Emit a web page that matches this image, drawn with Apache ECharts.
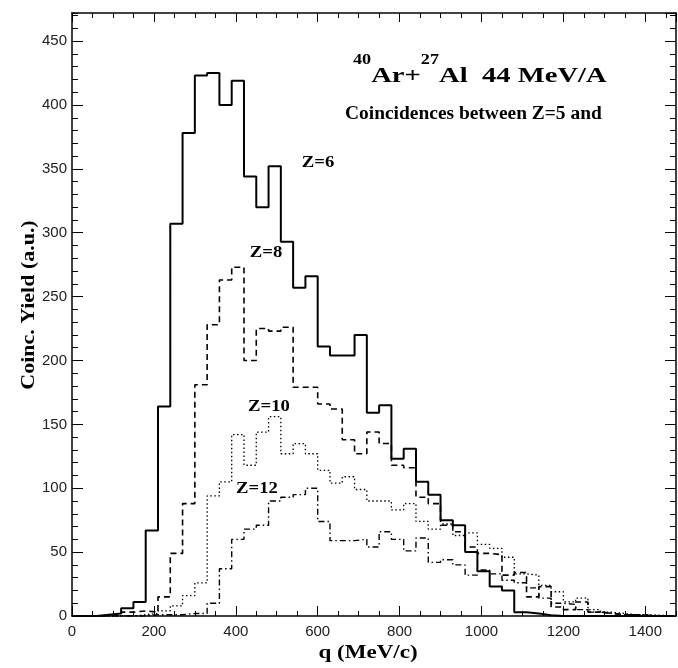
<!DOCTYPE html>
<html><head><meta charset="utf-8">
<script src="https://cdn.jsdelivr.net/npm/echarts@6/dist/echarts.min.js"></script>
<style>html,body{margin:0;padding:0;background:#fff}#c{width:678px;height:668px}</style>
</head><body><div id="c"></div>
<script>
// lower edges of the 30 MeV/c bins
const binEdges = [0,30,60,90,120,150,180,210,240,270,
  300,330,360,390,420,450,480,510,540,570,
  600,630,660,690,720,750,780,810,840,870,
  900,930,960,990,1020,1050,1080,1110,1140,1170,
  1200,1230,1260,1290,1320,1350,1380,1410,1440];
const binWidth = 30;
// Coincidence yields per bin
const z6 = [0,0,1,2,6,11,67,164,307,378,
  423,425,400,419,344,320,352,293,257,266,
  211,204,204,220,159,165,123,131,105,95,
  75,71,50,35,23,20,3,2,0.5,0,
  0,0,0,0,0,0,0,0,0];
const z8 = [0,0,0,1,3,4,3,15,49,88,
  181,228,263,273,200,225,223,226,179,179,
  166,162,138,127,144,135,118,116,93,88,
  71,66,54,49,48,32,34,15,23,7,
  5,11,3,2,1,1,0.5,0,0];
const z10 = [0,0,0,0,0,1,2,4,8,16,
  26,94,105,142,118,144,156,127,135,127,
  114,104,109,99,90,90,83,88,74,68,
  72,63,65,56,53,46,33,32,24,19,
  11,14,5,3,2,1,1,0.5,0];
const z12 = [0,0,0,0,0,0,1,1,1,2,
  2,10,37,60,68,71,90,93,95,100,
  74,59,59,60,54,66,60,51,61,42,
  44,40,32,36,33,28,26,22,14,10,
  9,5,3,2,1,1,0.5,0,0];
const xMin = 0, xMax = 1475, xMajor = 200, xMinor = 50;
const yMin = 0, yMax = 472, yMajor = 50, yMinor = 10;
const seriesLabels = ['Z=6','Z=8','Z=10','Z=12'];

function histData(vals){
  const d = binEdges.map((e,i)=>[e, vals[i]]);
  d.push([binEdges[binEdges.length-1] + binWidth, 0]);
  return d;
}
const serif = '"Liberation Serif", "Times New Roman", serif';
const sans = '"Liberation Sans", Arial, sans-serif';

function xAx(pos, interval, tickLen, showLabel, showLine){
  return {type:'value', position:pos, min:xMin, max:xMax, interval:interval,
    axisLine:{show:showLine, onZero:false, lineStyle:{color:'#000', width:1.5}},
    axisTick:{show:true, inside:true, length:tickLen, lineStyle:{color:'#000', width:1}},
    axisLabel:{show:showLabel, showMaxLabel:false, margin:8, fontFamily:sans, fontSize:15, color:'#222',
      formatter:function(v){return String(v);}},
    splitLine:{show:false}};
}
function yAx(pos, interval, tickLen, showLabel, showLine){
  return {type:'value', position:pos, min:yMin, max:yMax, interval:interval,
    axisLine:{show:showLine, onZero:false, lineStyle:{color:'#000', width:1.5}},
    axisTick:{show:true, inside:true, length:tickLen, lineStyle:{color:'#000', width:1}},
    axisLabel:{show:showLabel, showMaxLabel:false, margin:5, fontFamily:sans, fontSize:15, color:'#222',
      formatter:function(v){return String(v);}},
    splitLine:{show:false}};
}
function ser(name, vals, width, dash, z){
  return {name:name, type:'line', step:'end', data:histData(vals), symbol:'none', z:z,
    xAxisIndex:0, yAxisIndex:0,
    lineStyle:{color:'#000', width:width, type:dash}};
}
const chart = echarts.init(document.getElementById('c'), null, {renderer:'canvas'});
chart.setOption({
  animation:false,
  backgroundColor:'#fff',
  grid:{left:72, right:2, top:13, bottom:52},
  xAxis:[xAx('bottom', xMajor, 10, true, true), xAx('bottom', xMinor, 5, false, false),
         xAx('top', xMajor, 9, false, true), xAx('top', xMinor, 5, false, false)],
  yAxis:[yAx('left', yMajor, 11, true, true), yAx('left', yMinor, 6, false, false),
         yAx('right', yMajor, 11, false, true), yAx('right', yMinor, 6, false, false)],
  series:[
    ser(seriesLabels[3], z12, 1.4, [6,3,1.5,3], 2),
    ser(seriesLabels[2], z10, 1.3, [1.5,2.5], 3),
    ser(seriesLabels[1], z8, 1.6, [6,4], 4),
    ser(seriesLabels[0], z6, 2, 'solid', 5)
  ],
  graphic:[
    {type:'text', x:353, y:53, scaleX:1.3, z:10, style:{
      text:'{s|40}{b|Ar+}{s|27}{b|Al  44 MeV/A}', textVerticalAlign:'top',
      rich:{b:{fontFamily:serif, fontWeight:'bold', fontSize:22, fill:'#000', lineHeight:34, verticalAlign:'bottom'},
            s:{fontFamily:serif, fontWeight:'bold', fontSize:14, fill:'#000', lineHeight:34, verticalAlign:'top'}}}},
    {type:'text', x:345, y:105, scaleX:1.08, z:10, style:{text:'Coincidences between Z=5 and',
      font:'bold 18px ' + serif, fill:'#000', textVerticalAlign:'top'}},
    {type:'text', x:318, y:163, scaleX:1.1, z:10, style:{text:seriesLabels[0], font:'bold 17px ' + serif, fill:'#000', textAlign:'center', textVerticalAlign:'middle'}},
    {type:'text', x:266, y:253, scaleX:1.1, z:10, style:{text:seriesLabels[1], font:'bold 17px ' + serif, fill:'#000', textAlign:'center', textVerticalAlign:'middle'}},
    {type:'text', x:269, y:407, scaleX:1.1, z:10, style:{text:seriesLabels[2], font:'bold 17px ' + serif, fill:'#000', textAlign:'center', textVerticalAlign:'middle'}},
    {type:'text', x:257, y:489, scaleX:1.1, z:10, style:{text:seriesLabels[3], font:'bold 17px ' + serif, fill:'#000', textAlign:'center', textVerticalAlign:'middle'}},
    {type:'text', x:29, y:305, rotation:Math.PI/2, scaleX:1.22, z:10, style:{text:'Coinc. Yield (a.u.)', font:'bold 18px ' + serif, fill:'#000', textAlign:'center', textVerticalAlign:'middle'}},
    {type:'text', x:368, y:653, scaleX:1.28, z:10, style:{text:'q (MeV/c)', font:'bold 18px ' + serif, fill:'#000', textAlign:'center', textVerticalAlign:'middle'}}
  ]
});
</script></body></html>
